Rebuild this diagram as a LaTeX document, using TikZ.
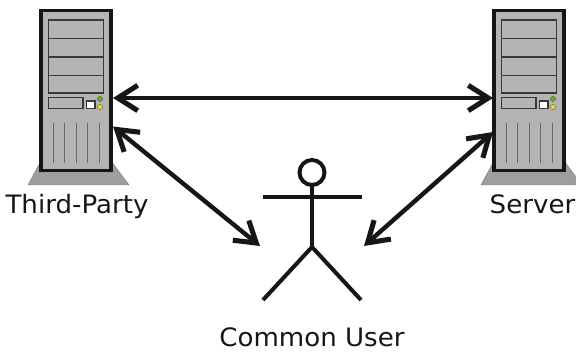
\documentclass[tikz,border=0pt]{standalone}
\usepackage{fontspec}
\setmainfont[FakeStretch=1.03]{DejaVu Sans}
\usepackage{tikz}
\usetikzlibrary{arrows.meta, calc, positioning}
\definecolor{casegray}{HTML}{B5B4B2}
\definecolor{basegray}{HTML}{A09E9C}
\definecolor{inkblack}{HTML}{161616}
\definecolor{ledgreen}{HTML}{6AA82C}
\definecolor{ledyellow}{HTML}{F2DC14}
\tikzstyle{tower} = [rectangle, draw=inkblack, fill=casegray, line width=2.4pt, minimum width=52.5pt, minimum height=120.5pt, inner sep=0pt, outer sep=0pt]
\tikzstyle{bay} = [draw=inkblack!85, fill=casegray, line width=0.9pt]
\tikzstyle{vent} = [draw=inkblack!65, line width=0.6pt]
\tikzstyle{stick} = [draw=inkblack, line width=3pt]
\tikzstyle{caption} = [anchor=base, text=inkblack, inner sep=0pt, font=\fontsize{19}{23}\selectfont]
\tikzstyle{arrow} = [draw=inkblack, line width=3.3pt, {Straight Barb[length=15pt,width=19pt,line width=3.8pt]}-{Straight Barb[length=15pt,width=19pt,line width=3.8pt]}]

\begin{document}
\begin{tikzpicture}[x=0.75pt, y=-0.75pt]
	\useasboundingbox (0,0) rectangle (576,352);
	\clip (0,0) rectangle (576,352);
	% the two machines
	\foreach \name/\shift/\title/\tx in {thirdparty/0/Third-Party/77, server/453/Server/79.5}{
		\begin{scope}[xshift=\shift*0.75pt]
		\draw[fill=basegray, draw=basegray!70!black, line width=0.3pt] (41,161) -- (111,161) -- (129,185) -- (28,185) -- cycle;
		\node (\name) [tower] at (76,90.5) {};
		\draw[bay] (48.5,20) rectangle (103.5,93);
		\draw[bay] (48.5,38.5) -- (103.5,38.5);
		\draw[bay] (48.5,57) -- (103.5,57);
		\draw[bay] (48.5,75.5) -- (103.5,75.5);
		\draw[bay] (48.5,97.5) rectangle (83,108.5);
		\draw[bay, fill=white] (86.5,101) rectangle (95,108.5);
		\fill[ledgreen, draw=inkblack!70, line width=0.3pt] (100,99) circle (2.6);
		\fill[ledyellow, draw=inkblack!70, line width=0.3pt] (100,107) circle (2.6);
		\foreach \vx in {53,64.5,76,87.5,99.5}
			\draw[vent] (\vx,123) -- (\vx,163);
		\node (\name label) [caption] at (\tx,213.5) {\title};
		\end{scope}
	}
	% the person
	\node (head) [circle, draw=inkblack, line width=3pt, minimum size=18.75pt, inner sep=0pt, outer sep=0pt] at (312,172.5) {};
	\coordinate (hip) at (312,247);
	\coordinate (armleft) at (262.5,197);
	\coordinate (armright) at (361.5,197);
	\coordinate (footleft) at (263,300);
	\coordinate (footright) at (361,300);
	\draw[stick] (head.south) -- (hip);
	\draw[stick] (armleft) -- (armright);
	\draw[stick] (footleft) -- (hip) -- (footright);
	\node (user label) [caption] at (312,347) {Common User};
	% free ends of the arrows
	\coordinate (tpmid) at (113,98);
	\coordinate (svmid) at (493,98);
	\coordinate (tplow) at (113,126.5);
	\coordinate (svlow) at (493,132);
	\coordinate (userleft) at (260,246);
	\coordinate (userright) at (364,246);
	\draw[arrow] (tpmid) -- (svmid);
	\draw[arrow] (tplow) -- (userleft);
	\draw[arrow] (svlow) -- (userright);
\end{tikzpicture}
\end{document}
